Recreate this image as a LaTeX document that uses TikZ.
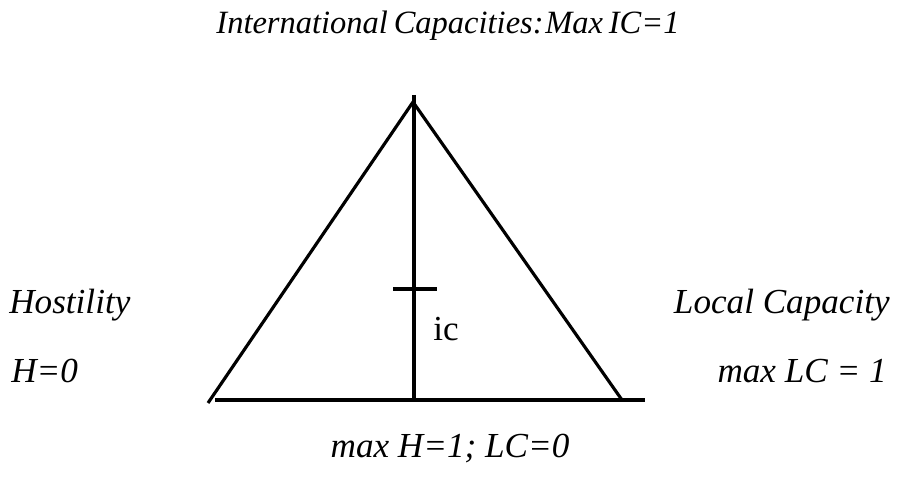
\documentclass[tikz,border=0pt]{standalone}
\usepackage{fontspec}
\setmainfont{Liberation Serif}
\usepackage{tikz}
\usetikzlibrary{calc}

\begin{document}
\begin{tikzpicture}[x=0.02cm, y=-0.02cm,
    every node/.style={font=\fontsize{20}{24}\selectfont\itshape, inner sep=0pt},
    edge/.style={line width=1.8pt}]
        \useasboundingbox (0,0) rectangle (898,479);
        % triangle
        \coordinate (apex)  at (413,102);
        \coordinate (left)  at (208,403);
        \coordinate (right) at (622,400);
        \coordinate (top)   at (414,95);
        \coordinate (foot)  at (414,400);
        \coordinate (base1) at (215,400);
        \coordinate (base2) at (645,400);
        \coordinate (tickl) at (393,289);
        \coordinate (tickr) at (437,289);
        \draw[edge] (left) -- (apex) -- (right);
        \draw[edge] (base1) -- (base2);
        \draw[edge] (top) -- (foot);
        \draw[edge] (tickl) -- (tickr);
        \node[anchor=base west,font=\fontsize{20}{24}\selectfont\upshape] (ic) at (433,340) {ic};
        % labels
        \node[anchor=base,font=\fontsize{18.5}{22}\selectfont\itshape] (title) at (448,34)
          {\spaceskip=0.18em\relax International Capacities:\hspace{0.05em}Max IC=1};
        \node[anchor=base west] (host) at (9,313) {Hostility};
        \node[anchor=base west] (h0) at (11,382) {H=0};
        \node[anchor=base east] (local) at (890,313) {Local Capacity};
        \node[anchor=base east] (lc1) at (887,382) {max LC = 1};
        \node[anchor=base] (bottom) at (450,457) {max H=1; LC=0};
\end{tikzpicture}
\end{document}
